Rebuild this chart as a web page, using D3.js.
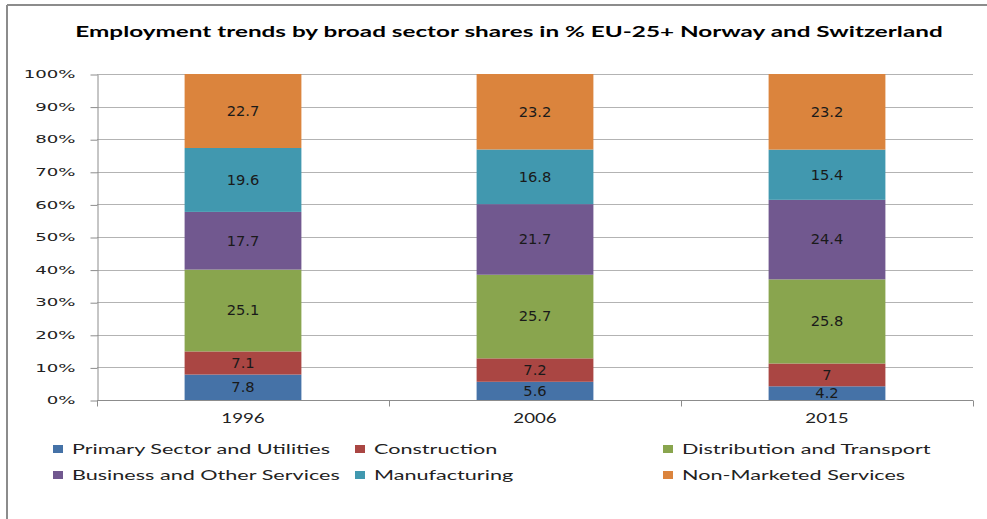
<!DOCTYPE html>
<html>
<head>
<meta charset="utf-8">
<script src="https://cdn.jsdelivr.net/npm/d3@7"></script>
<style>
  html, body { margin: 0; padding: 0; background: #fff; }
  svg { display: block; }
</style>
</head>
<body>
<svg id="chart" width="987" height="519"></svg>
<script>
// ---- Data ----
const years = ["1996", "2006", "2015"];
const seriesNames = [
  "Primary Sector and Utilities",
  "Construction",
  "Distribution and Transport",
  "Business and Other Services",
  "Manufacturing",
  "Non-Marketed Services"
];
const primarySector   = [7.8, 5.6, 4.2];
const construction    = [7.1, 7.2, 7];
const distribution    = [25.1, 25.7, 25.8];
const businessOther   = [17.7, 21.7, 24.4];
const manufacturing   = [19.6, 16.8, 15.4];
const nonMarketed     = [22.7, 23.2, 23.2];
const yTicks = [0, 0.1, 0.2, 0.3, 0.4, 0.5, 0.6, 0.7, 0.8, 0.9, 1];
const colors = ["#4572A7", "#AA4643", "#89A54E", "#71588F", "#4198AF", "#DB843D"];
const title = "Employment trends by broad sector shares in % EU-25+ Norway and Switzerland";

const seriesValues = [primarySector, construction, distribution, businessOther, manufacturing, nonMarketed];
const rows = years.map((y, i) => {
  const r = { year: y };
  seriesNames.forEach((s, k) => r[s] = seriesValues[k][i]);
  return r;
});

// ---- Layout ----
const svg = d3.select("#chart");
const plot = { left: 97, right: 973, top: 74, bottom: 400 };

// frame
svg.append("line").attr("x1", 7).attr("x2", 987).attr("y1", 5).attr("y2", 5)
  .attr("stroke", "#8c8c8c").attr("stroke-width", 2);
svg.append("line").attr("x1", 7).attr("x2", 7).attr("y1", 5).attr("y2", 519)
  .attr("stroke", "#8c8c8c").attr("stroke-width", 2);

// helper: horizontally stretched text
function stretchedText(g, x, y, txt, opts) {
  const t = g.append("text")
    .attr("transform", `translate(${x},${y}) scale(${opts.sx},1)`)
    .attr("text-anchor", opts.anchor || "middle")
    .attr("dominant-baseline", "central")
    .attr("font-family", opts.family)
    .attr("font-size", opts.size)
    .attr("font-weight", opts.weight || "normal")
    .attr("fill", opts.fill || "#000")
    .text(txt);
  return t;
}

// title: fit to target width
const titleT = stretchedText(svg, 509, 31, title, { sx: 1, family: "Lato", size: 14.5, weight: "bold" });
const tw = titleT.node().getComputedTextLength();
titleT.attr("transform", `translate(509,31) scale(${868 / tw},1)`);

const x = d3.scaleBand().domain(years).range([plot.left, plot.right])
  .paddingInner(0.6).paddingOuter(0.3);
const y = d3.scaleLinear().domain([0, 1]).range([plot.bottom, plot.top]);

// gridlines
svg.append("g").selectAll("line").data(yTicks).join("line")
  .attr("x1", plot.left).attr("x2", plot.right)
  .attr("y1", d => Math.round(y(d)) + 0.5).attr("y2", d => Math.round(y(d)) + 0.5)
  .attr("stroke", "#b3b3b3").attr("stroke-width", 1);

// y axis
const yAxis = svg.append("g").attr("transform", `translate(${plot.left + 0.5},0.5)`)
  .call(d3.axisLeft(y).tickValues(yTicks).tickFormat(d3.format(".0%")).tickSizeOuter(0).tickSizeInner(7).tickPadding(0));
yAxis.select(".domain").attr("stroke", "#8c8c8c");
yAxis.selectAll(".tick line").attr("stroke", "#8c8c8c");
yAxis.selectAll(".tick text").remove();
yAxis.selectAll(".tick").each(function(d) {
  stretchedText(d3.select(this), -22, -0.5, d3.format(".0%")(d),
    { sx: 1.65, anchor: "end", family: "DejaVu Sans", size: 11, fill: "#222" });
});

// x axis
const xAxisG = svg.append("g").attr("transform", `translate(0,${plot.bottom + 0.5})`);
xAxisG.append("line").attr("x1", plot.left).attr("x2", plot.right).attr("y1", 0).attr("y2", 0)
  .attr("stroke", "#8c8c8c");
const boundaries = [plot.left].concat(years.map(yr => x(yr) + x.bandwidth() / 2 + x.step() / 2));
xAxisG.selectAll("line.tk").data(boundaries).join("line").attr("class", "tk")
  .attr("x1", d => Math.round(d) + 0.5).attr("x2", d => Math.round(d) + 0.5)
  .attr("y1", 0).attr("y2", 6).attr("stroke", "#8c8c8c");
years.forEach(yr => {
  stretchedText(xAxisG, x(yr) + x.bandwidth() / 2, 17, yr,
    { sx: 1.5, family: "Lato", size: 12.5, fill: "#222" });
});

// stacks
const stack = d3.stack().keys(seriesNames).offset(d3.stackOffsetExpand);
const stacked = stack(rows);

const barsG = svg.append("g");
stacked.forEach((layer, k) => {
  const g = barsG.append("g").attr("fill", colors[k]);
  g.selectAll("rect").data(layer).join("rect")
    .attr("x", d => x(d.data.year))
    .attr("width", x.bandwidth())
    .attr("y", d => y(d[1]))
    .attr("height", d => y(d[0]) - y(d[1]));
});
const labelsG = svg.append("g");
stacked.forEach((layer, k) => {
  layer.forEach(d => {
    const cy = (y(d[0]) + y(d[1])) / 2;
    stretchedText(labelsG, x(d.data.year) + x.bandwidth() / 2, cy, String(d.data[layer.key]),
      { sx: 1.05, family: "DejaVu Sans", size: 14, fill: "#1a1a1a" });
  });
});

// legend
const legendCols = [53, 355, 663];
const legendRows = [449, 475];
const legendG = svg.append("g");
seriesNames.forEach((s, i) => {
  const cx = legendCols[i % 3], cy = legendRows[Math.floor(i / 3)];
  legendG.append("rect").attr("x", cx).attr("y", cy - 4).attr("width", 10).attr("height", 8)
    .attr("fill", colors[i]);
  stretchedText(legendG, cx + 19, cy, s,
    { sx: 1.6, anchor: "start", family: "Lato", size: 13.5, fill: "#222" });
});
</script>
</body>
</html>
